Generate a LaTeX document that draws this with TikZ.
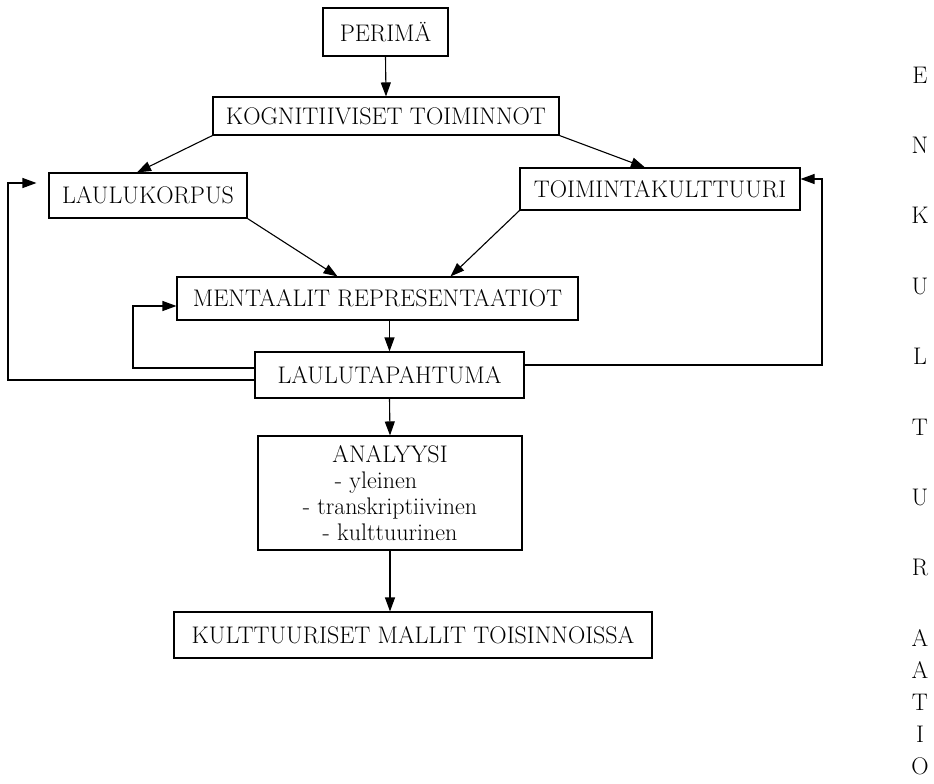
\documentclass[tikz,border=0pt]{standalone}
\usetikzlibrary{arrows.meta,calc}
\tikzset{box/.style={draw, rectangle, line width=1.1pt, inner sep=2pt,
                     font=\fontsize{24}{26}\selectfont},
        flow/.style={line width=1.1pt, -{Triangle[length=14pt,width=10pt]}},
        vletter/.style={inner sep=0pt, font=\fontsize{24}{26}\selectfont},
        }

\begin{document}
\begin{tikzpicture}[x=1pt,y=-1pt]
    \fill[white] (0,0) rectangle (934,784);
    \useasboundingbox (0,0) rectangle (934,784);

    \node[box, minimum width=125pt, minimum height=48pt] (perima) at (385.5,32) {PERIMÄ};
    \node[box, minimum width=346pt, minimum height=38pt] (kogn) at (386,116) {KOGNITIIVISET TOIMINNOT};
    \node[box, minimum width=198pt, minimum height=45pt] (laulu) at (148,195.5) {LAULUKORPUS};
    \node[box, minimum width=280pt, minimum height=42pt] (toim) at (660,189) {TOIMINTAKULTTUURI};
    \node[box, minimum width=401pt, minimum height=43pt] (ment) at (377.5,298.5) {MENTAALIT REPRESENTAATIOT};
    \node[box, minimum width=269pt, minimum height=46pt] (tapaht) at (389.5,375) {LAULUTAPAHTUMA};
    \node[box, minimum width=264pt, minimum height=114pt, align=center] (analyysi) at (390,493)
        {ANALYYSI\\- yleinen\rule{28pt}{0pt}\\- transkriptiivinen\\- kulttuurinen};
    \node[box, minimum width=478pt, minimum height=46pt] (mallit) at (413,635) {KULTTUURISET MALLIT TOISINNOISSA};

    % ENKULTURAATIO pystyyn
    \foreach \ch [count=\i] in {E,N,K,U,L,T,U,R}
        \node[vletter] (ylin\i) at (920,{75+70.4*(\i-1)}) {\ch};
    \foreach \ch [count=\i] in {A,A,T,I,O}
        \node[vletter] (alin\i) at (920,{638+32*(\i-1)}) {\ch};

    \draw[flow] (perima.south) -- (kogn.north);
    \draw[flow] (kogn.south west) -- ([xshift=-11pt]laulu.north);
    \draw[flow] (kogn.south east) -- ([xshift=-15pt]toim.north);
    \draw[flow] (laulu.south east) -- ([xshift=-40pt]ment.north);
    \draw[flow] (toim.south west) -- ([xshift=73pt]ment.north);
    \draw[flow] (ment.south -| tapaht.north) -- (tapaht.north);
    \draw[flow] (tapaht.south) -- (analyysi.north);
    \draw[flow] (analyysi.south) -- (analyysi.south |- mallit.north);

    % palautesilmukat
    \coordinate (oikea) at (822,179);
    \coordinate (vasen) at (8,183);
    \coordinate (sisa) at (133,306);
    \draw[flow] ([yshift=10pt]tapaht.east) -| (oikea) -- (oikea -| toim.east);
    \draw[flow] ([yshift=-5pt]tapaht.west) -| (vasen) -- ($(vasen -| laulu.west)+(-12pt,0)$);
    \draw[flow] ([yshift=7pt]tapaht.west) -| (sisa) -- (sisa -| ment.west);

\end{tikzpicture}
\end{document}
